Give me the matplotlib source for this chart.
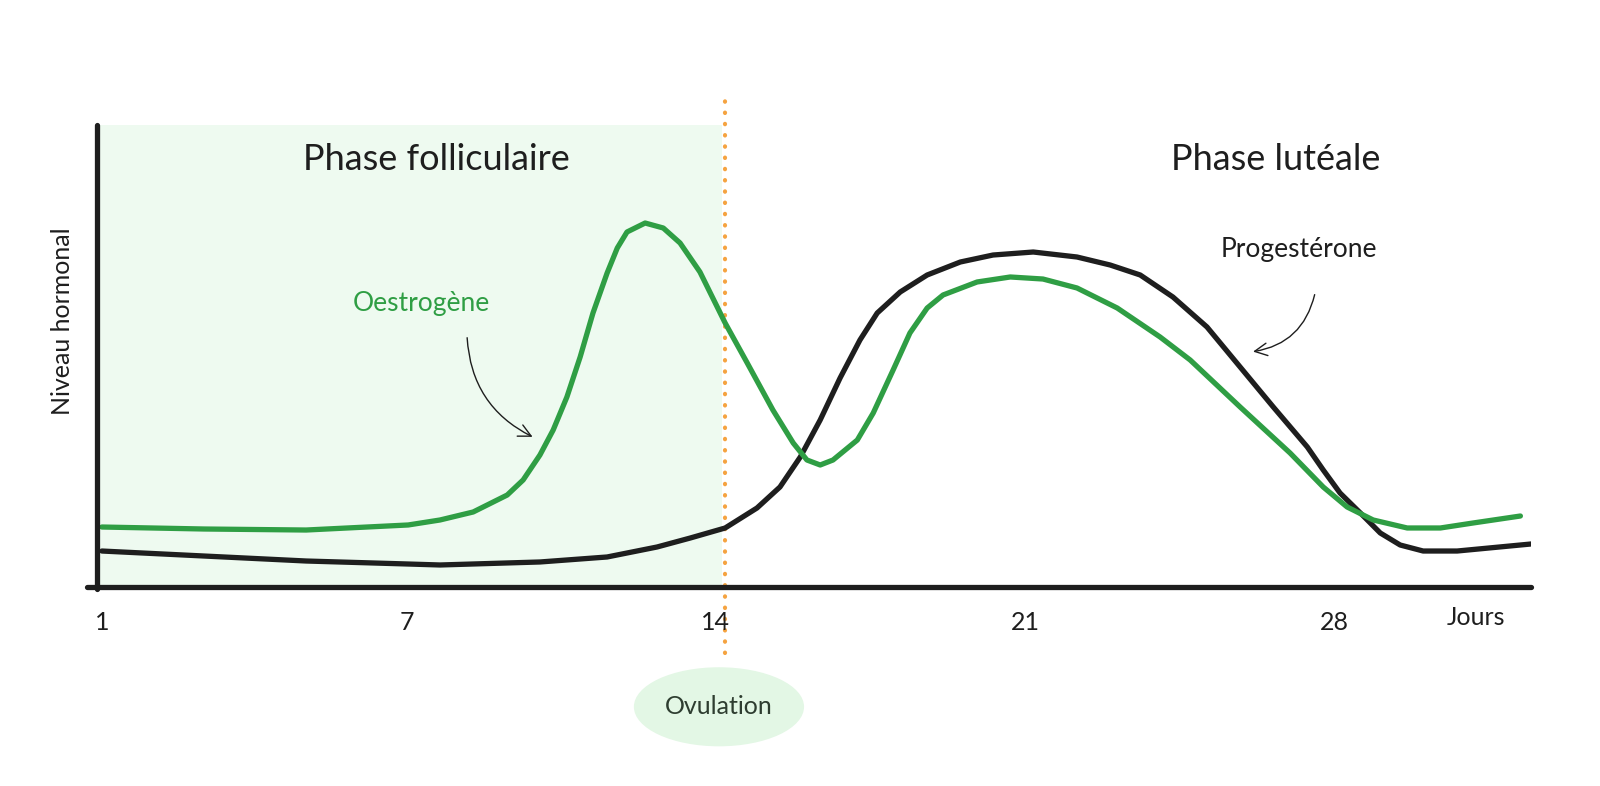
import matplotlib
matplotlib.use("Agg")
import matplotlib.pyplot as plt
from matplotlib.patches import Ellipse

plt.rcParams['font.family'] = ['Lato', 'DejaVu Sans']

# hormone curves (x in days from origin, y in relative level 0-100)
oestrogen_day = [0.11, 2.42, 4.73, 7.04, 7.76, 8.51, 9.28, 9.64, 10.02, 10.32, 10.63, 10.93,
                 11.22, 11.54, 11.77, 11.99, 12.40, 12.81, 13.19, 13.64, 14.21, 14.71, 15.29,
                 15.75, 16.06, 16.36, 16.65, 17.20, 17.56, 18.01, 18.39, 18.78, 19.14, 19.91,
                 20.66, 21.40, 22.17, 23.08, 24.05, 24.73, 25.86, 26.99, 27.74, 28.28, 28.87,
                 29.64, 30.39, 31.13, 32.20]
oestrogen_level = [12.97, 12.54, 12.32, 13.41, 14.49, 16.22, 19.89, 23.14, 28.54, 33.95, 41.08, 49.73,
                   59.24, 67.89, 73.30, 76.76, 78.70, 77.62, 74.38, 68.11, 57.08, 48.43, 38.27,
                   31.14, 27.46, 26.38, 27.46, 31.78, 37.62, 46.92, 54.92, 60.32, 63.14, 65.95,
                   67.03, 66.59, 64.65, 60.32, 54.05, 49.08, 38.92, 28.97, 21.62, 17.30, 14.49,
                   12.76, 12.76, 13.84, 15.35]

progesterone_day = [0.11, 2.42, 4.73, 7.04, 7.76, 10.02, 11.54, 12.67, 13.42, 14.21, 14.93, 15.45,
                    15.91, 16.36, 16.81, 17.26, 17.65, 18.17, 18.78, 19.53, 20.27, 21.18, 22.17,
                    22.92, 23.60, 24.34, 25.11, 25.86, 26.61, 27.38, 27.74, 28.12, 28.58, 29.03,
                    29.48, 30.00, 30.77, 32.44]
progesterone_level = [7.78, 6.70, 5.62, 4.97, 4.76, 5.41, 6.49, 8.65, 10.59, 12.76, 17.08, 21.62,
                      28.11, 36.11, 45.19, 53.41, 59.24, 63.78, 67.46, 70.27, 71.78, 72.43, 71.35,
                      69.62, 67.46, 62.70, 56.22, 47.57, 38.92, 30.27, 25.30, 20.32, 16.00, 11.68,
                      9.08, 7.78, 7.78, 9.30]

tick_pos = [0.11, 7, 14, 21, 28]
tick_labels = ["1", "7", "14", "21", "28"]
ovulation_day = 14.2
follicular_end = 14.14
x_max = 32.44

GREEN = '#2f9e44'
INK = '#1e1e1e'
ORANGE = '#f5a340'

fig = plt.figure(figsize=(16, 7.86), dpi=100)
ax = fig.add_axes([97 / 1600, (786 - 587) / 786, (1531 - 97) / 1600, (587 - 124.5) / 786])
ax.set_xlim(0, x_max)
ax.set_ylim(0, 100)
for s in ax.spines.values():
    s.set_visible(False)
ax.set_yticks([])
ax.set_xticks(tick_pos)
ax.set_xticklabels(tick_labels, fontsize=18, color=INK)
ax.tick_params(axis='x', length=0, pad=17)

# follicular phase shading
ax.axvspan(0, follicular_end, ymin=0, ymax=1, color='#eefaf0', lw=0, zorder=0)

# ovulation marker
ax.plot([ovulation_day, ovulation_day], [-14.3, 105.3], color=ORANGE, lw=3,
        ls=(0, (0.1, 2.6)), dash_capstyle='round', clip_on=False, zorder=1)

# curves
ax.plot(progesterone_day, progesterone_level, color=INK, lw=3.8,
        solid_capstyle='round', solid_joinstyle='round', zorder=3)
ax.plot(oestrogen_day, oestrogen_level, color=GREEN, lw=3.8,
        solid_capstyle='round', solid_joinstyle='round', zorder=3)

# axes lines
ax.plot([0, 0], [-0.5, 100], color=INK, lw=3.8, solid_capstyle='round', clip_on=False, zorder=4)
ax.plot([-0.23, x_max], [0, 0], color=INK, lw=3.8, solid_capstyle='round', clip_on=False, zorder=4)

# labels
ax.text(7.67, 92.5, "Phase folliculaire", fontsize=26, color=INK, ha='center', va='center')
ax.text(26.67, 92.5, "Phase lutéale", fontsize=26, color=INK, ha='center', va='center')
ax.text(-0.78, 57.5, "Niveau hormonal", fontsize=18, color=INK, rotation=90,
        ha='center', va='center', clip_on=False)
ax.text(31.2, -6.5, "Jours", fontsize=18, color=INK, ha='center', va='center', clip_on=False)

ax.text(7.33, 61.2, "Oestrogène", fontsize=19, color=GREEN, ha='center', va='center')
ax.annotate("", xy=(9.91, 32.2), xytext=(8.37, 54.5),
            arrowprops=dict(arrowstyle='->,head_length=0.9,head_width=0.45', color=INK, lw=1,
                            connectionstyle='arc3,rad=0.3'))

ax.text(27.19, 72.9, "Progestérone", fontsize=19, color=INK, ha='center', va='center')
ax.annotate("", xy=(26.09, 50.8), xytext=(27.56, 63.8),
            arrowprops=dict(arrowstyle='->,head_length=0.9,head_width=0.45', color=INK, lw=1,
                            connectionstyle='arc3,rad=-0.35'))

# ovulation bubble
bubble = Ellipse((14.07, -25.9), 3.85, 17.1, facecolor='#e3f7e5', edgecolor='none', clip_on=False)
ax.add_patch(bubble)
ax.text(14.07, -25.9, "Ovulation", fontsize=18, color='#2e3d30', ha='center', va='center',
        clip_on=False)

fig.savefig("out.png", dpi=100)
